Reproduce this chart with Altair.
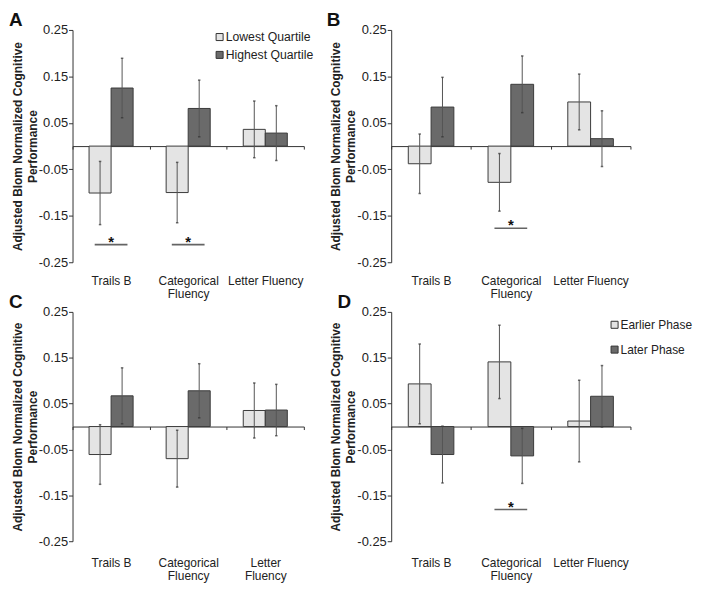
import altair as alt
import pandas as pd

categories = ["Trails B", "Categorical Fluency", "Letter Fluency"]
quartile_series = ["Lowest Quartile", "Highest Quartile"]
phase_series = ["Earlier Phase", "Later Phase"]
y_ticks = [0.25, 0.15, 0.05, -0.05, -0.15, -0.25]

# Panel A
a_first = [-0.101, -0.100, 0.036]
a_first_err = [0.068, 0.065, 0.061]
a_second = [0.125, 0.081, 0.028]
a_second_err = [0.064, 0.061, 0.059]
a_sig = ["Trails B", "Categorical Fluency"]
a_sig_y = -0.212

# Panel B
b_first = [-0.038, -0.078, 0.095]
b_first_err = [0.064, 0.062, 0.060]
b_second = [0.084, 0.133, 0.016]
b_second_err = [0.064, 0.061, 0.060]
b_sig = ["Categorical Fluency"]
b_sig_y = -0.177

# Panel C
c_first = [-0.061, -0.070, 0.035]
c_first_err = [0.065, 0.062, 0.060]
c_second = [0.067, 0.078, 0.036]
c_second_err = [0.061, 0.059, 0.056]
c_sig = []
c_sig_y = -0.2

# Panel D
d_first = [0.093, 0.141, 0.012]
d_first_err = [0.087, 0.080, 0.089]
d_second = [-0.061, -0.064, 0.066]
d_second_err = [0.062, 0.060, 0.067]
d_sig = ["Categorical Fluency"]
d_sig_y = -0.181

LIGHT = "#e4e4e4"
DARK = "#6a6a6a"
FONT = "Liberation Sans"


def make_panel(letter, letter_dx, series, first, first_err, second, second_err,
               sig_cats, sig_y, wrap_letter, width, height, legend, label_extra):
    rows = []
    for s, vals, errs in [(series[0], first, first_err), (series[1], second, second_err)]:
        for c, v, e in zip(categories, vals, errs):
            rows.append({"cat": c, "series": s, "value": v, "lo": v - e, "hi": v + e})
    df = pd.DataFrame(rows)
    sig_df = pd.DataFrame({"cat": sig_cats, "y": [sig_y] * len(sig_cats)})

    if wrap_letter:
        lab = ("datum.label == 'Categorical Fluency' ? ['Categorical','Fluency'] : "
               "datum.label == 'Letter Fluency' ? ['Letter','Fluency'] : datum.label")
    else:
        lab = ("datum.label == 'Categorical Fluency' ? ['Categorical','Fluency'] : datum.label")

    xaxis = alt.Axis(
        title=None, offset=-height / 2, domainColor="#333", domainWidth=1,
        tickColor="#333", tickSize=3, tickBand="extent", labelAngle=0,
        labelPadding=height / 2 + label_extra, labelFontSize=12, labelFont=FONT,
        labelColor="#222", labelExpr=lab, labelLineHeight=13.5, labelBaseline="top",
    )
    yaxis = alt.Axis(
        title=["Adjusted Blom Normalized Cognitive", "Performance"],
        titleFontSize=12, titleFontWeight="bold", titleFont=FONT, titleColor="#222",
        titlePadding=-1, titleLineHeight=15,
        values=y_ticks, labelExpr="(datum.value < 0 ? '-' : '') + format(abs(datum.value), '.2f')",
        labelFontSize=13, labelFont=FONT, labelColor="#222", labelPadding=1,
        tickSize=4, tickColor="#333", domainColor="#333", grid=False,
    )
    xenc = alt.X("cat:N", sort=categories, axis=xaxis,
                 scale=alt.Scale(domain=categories, paddingInner=0, paddingOuter=0))
    yscale = alt.Scale(domain=[-0.25, 0.25], nice=False, zero=False)
    xoff = alt.XOffset("series:N", sort=series,
                       scale=alt.Scale(domain=series, paddingInner=0, paddingOuter=0.75))

    base = alt.Chart(df).encode(x=xenc, xOffset=xoff)
    bars = base.mark_bar(stroke="#3a3a3a", strokeWidth=1).encode(
        y=alt.Y("value:Q", scale=yscale, axis=yaxis),
        y2=alt.datum(0),
        color=alt.Color("series:N", sort=series,
                        scale=alt.Scale(domain=series, range=[LIGHT, DARK]),
                        legend=legend),
    )
    errs = base.mark_rule(color="#555", strokeWidth=1).encode(
        y=alt.Y("lo:Q"), y2="hi:Q")
    cap_lo = base.mark_tick(color="#333", size=2.5, thickness=1.5).encode(y=alt.Y("lo:Q"))
    cap_hi = base.mark_tick(color="#333", size=2.5, thickness=1.5).encode(y=alt.Y("hi:Q"))
    layers = [bars, errs, cap_lo, cap_hi]
    if len(sig_cats):
        sbase = alt.Chart(sig_df).encode(x=alt.X("cat:N", sort=categories), y=alt.Y("y:Q"))
        layers.append(sbase.mark_tick(size=33, thickness=1.6, color="#222"))
        layers.append(sbase.mark_text(text="*", fontSize=15, fontWeight="bold",
                                      font=FONT, color="#111", baseline="alphabetic", dy=2))
    return alt.layer(*layers).properties(
        width=width, height=height,
        title=alt.TitleParams(letter, anchor="start", frame="group", dx=letter_dx,
                              fontSize=19, fontWeight="bold", font=FONT,
                              color="#111", offset=-6),
    )


leg_a = alt.Legend(orient="none", legendX=142, legendY=1, direction="vertical", title=None,
                   symbolType="square", symbolSize=50, symbolStrokeColor="#333",
                   symbolStrokeWidth=1, labelFontSize=12.3, labelFont=FONT,
                   labelColor="#222", rowPadding=5, labelOffset=0, padding=0)
leg_d = alt.Legend(orient="none", legendX=219, legendY=7, direction="vertical", title=None,
                   symbolType="square", symbolSize=50, symbolStrokeColor="#333",
                   symbolStrokeWidth=1, labelFontSize=12, labelFont=FONT,
                   labelColor="#222", rowPadding=13, labelOffset=0, padding=0)

pA = make_panel("A", -64, quartile_series, a_first, a_first_err, a_second, a_second_err,
                a_sig, a_sig_y, False, 233, 234, leg_a, 10)
pB = make_panel("B", -65, quartile_series, b_first, b_first_err, b_second, b_second_err,
                b_sig, b_sig_y, False, 241, 234, None, 10)
pC = make_panel("C", -64, quartile_series, c_first, c_first_err, c_second, c_second_err,
                c_sig, c_sig_y, True, 233, 231, None, 13)
pD = make_panel("D", -54, phase_series, d_first, d_first_err, d_second, d_second_err,
                d_sig, d_sig_y, False, 241, 231, leg_d, 13)

chart = alt.concat(
    pA, pB, pC, pD, columns=2, spacing={"row": 50, "column": 88}, bounds="flush"
).resolve_scale(
    color="independent", x="independent", y="independent", xOffset="independent"
).properties(
    padding={"left": 1, "top": 1, "right": 0, "bottom": 0}
).configure_view(stroke=None)

chart.save("out.html", embed_options={"renderer": "svg", "actions": False})
